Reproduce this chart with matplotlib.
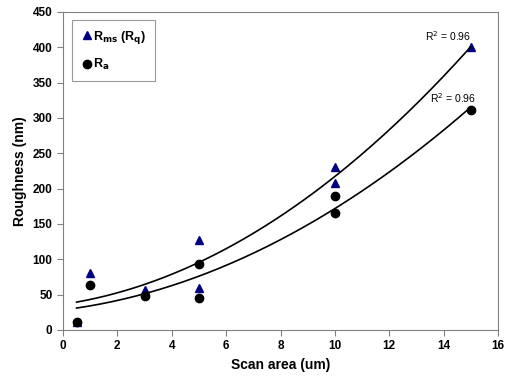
import matplotlib
matplotlib.use("Agg")
import matplotlib.pyplot as plt
import numpy as np

plt.rcParams['font.family'] = ['Liberation Sans', 'DejaVu Sans']

x_rms = [0.5, 1, 3, 5, 5, 10, 10, 15]
y_rms = [12, 80, 57, 127, 60, 230, 208, 400]
x_ra = [0.5, 1, 3, 5, 5, 10, 10, 15]
y_ra = [11, 64, 48, 93, 45, 190, 165, 312]
xticks = [0, 2, 4, 6, 8, 10, 12, 14, 16]
yticks = [0, 50, 100, 150, 200, 250, 300, 350, 400, 450]

fig = plt.figure(figsize=(5.05, 3.8), dpi=100)
ax = fig.add_axes([63/505, 50/380, 435/505, 318/380])

ax.plot(x_rms, y_rms, linestyle='none', marker='^', color='#000080', markersize=6, label=r'R$_{\mathbf{ms}}$ (R$_{\mathbf{q}}$)')
ax.plot(x_ra, y_ra, linestyle='none', marker='o', color='black', markersize=6, label=r'R$_{\mathbf{a}}$')

xs = np.linspace(0.5, 15, 200)
for xd, yd in [(x_rms, y_rms), (x_ra, y_ra)]:
    c = np.polyfit(xd, yd, 2)
    ax.plot(xs, np.polyval(c, xs), color='black', linewidth=1.2)

ax.set_xlim(0, 16)
ax.set_ylim(0, 450)
ax.set_xticks(xticks)
ax.set_yticks(yticks)
for s in ax.spines.values():
    s.set_color('#808080')
ax.tick_params(direction='out', length=4, color='#808080', labelsize=8.5)
for lab in ax.get_xticklabels() + ax.get_yticklabels():
    lab.set_fontweight('bold')

ax.set_xlabel('Scan area (um)', fontsize=10, fontweight='bold')
ax.set_ylabel('Roughness (nm)', fontsize=10, fontweight='bold')

ax.text(15, 406, r'R$^2$ = 0.96', fontsize=7.5, ha='right', va='bottom')
ax.text(15.2, 318, r'R$^2$ = 0.96', fontsize=7.5, ha='right', va='bottom')

leg = ax.legend(loc='upper left', bbox_to_anchor=(0.021, 0.975), borderaxespad=0, frameon=True, fancybox=False,
                edgecolor='#808080', handletextpad=0.0, handlelength=1.0, labelspacing=0.9,
                prop={'weight': 'bold', 'size': 9}, borderpad=0.7)
leg.get_frame().set_linewidth(0.8)

fig.savefig('out.png', dpi=100)
